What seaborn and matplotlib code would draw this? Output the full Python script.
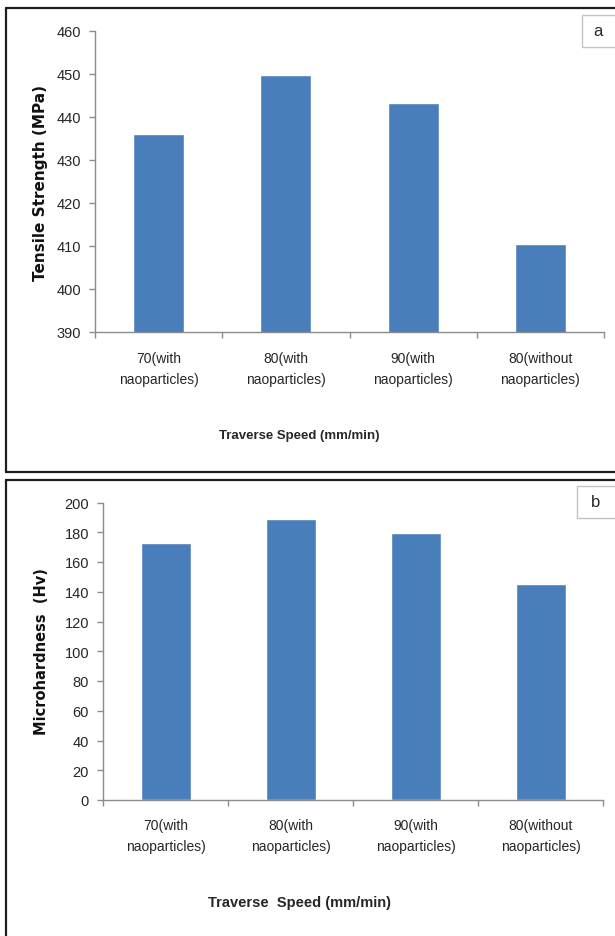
import matplotlib
matplotlib.use("Agg")
import matplotlib.pyplot as plt
from matplotlib import font_manager
from matplotlib.lines import Line2D
from matplotlib.patches import Rectangle
import seaborn as sns

# Data
categories = ["70(with\nnaoparticles)", "80(with\nnaoparticles)",
              "90(with\nnaoparticles)", "80(without\nnaoparticles)"]
tensile_strength = [436.0, 449.7, 443.2, 410.5]
microhardness = [173.0, 189.0, 179.2, 145.0]
tensile_ticks = [390, 400, 410, 420, 430, 440, 450, 460]
hardness_ticks = [0, 20, 40, 60, 80, 100, 120, 140, 160, 180, 200]

sns.set_theme(style="white")
installed = {f.name for f in font_manager.fontManager.ttflist}
NARROW = "Liberation Sans Narrow" if "Liberation Sans Narrow" in installed else "Liberation Sans"
plt.rcParams["font.family"] = [NARROW, "DejaVu Sans"]

W, H = 615, 937
BAR = "#4a7ebb"
AXIS = "#8c8c8c"
TEXT = "#262626"

fig = plt.figure(figsize=(W / 100, H / 100), dpi=100)
fig.patch.set_facecolor("white")


def px_axes(left, top, right, bottom):
    return fig.add_axes([left / W, 1 - bottom / H, (right - left) / W, (bottom - top) / H])


def style_axes(ax, ticks, label_pad, spacing):
    ax.set_facecolor("white")
    for s in ("top", "right"):
        ax.spines[s].set_visible(False)
    for s in ("left", "bottom"):
        ax.spines[s].set_color(AXIS)
        ax.spines[s].set_linewidth(1.0)
    ax.set_xlim(-0.5, len(categories) - 0.5)
    ax.set_ylim(ticks[0], ticks[-1])
    ax.set_yticks(ticks)
    ax.set_yticklabels([str(t) for t in ticks])
    ax.tick_params(axis="y", direction="out", length=4, width=1, color=AXIS,
                   pad=6, labelsize=10.5, labelcolor=TEXT, left=True)
    # category boundaries carry the tick marks, labels sit at bar centres
    ax.set_xticks([i - 0.5 for i in range(len(categories) + 1)])
    ax.set_xticklabels([""] * (len(categories) + 1))
    ax.tick_params(axis="x", which="major", direction="out", length=4, width=1,
                   color=AXIS, bottom=True)
    ax.set_xticks(range(len(categories)), minor=True)
    ax.set_xticklabels(categories, minor=True)
    ax.tick_params(axis="x", which="minor", length=0, pad=label_pad,
                   labelsize=10, labelcolor=TEXT)
    for lab in ax.get_xticklabels(minor=True):
        lab.set_linespacing(spacing)
        lab.set_ha("center")
    ax.set_xlabel("")
    ax.set_ylabel("")


# Panel a: tensile strength
ax1 = px_axes(95, 32, 604, 333)
sns.barplot(x=list(range(len(categories))), y=tensile_strength, color=BAR,
            width=0.4, ax=ax1, native_scale=True, saturation=1)
style_axes(ax1, tensile_ticks, 14, 1.6)

# Panel b: microhardness
ax2 = px_axes(103, 503.5, 603, 801)
sns.barplot(x=list(range(len(categories))), y=microhardness, color=BAR,
            width=0.4, ax=ax2, native_scale=True, saturation=1)
style_axes(ax2, hardness_ticks, 13, 1.6)


def fig_text(x, y, s, **kw):
    fig.text(x / W, 1 - y / H, s, **kw)


fig_text(299, 436, "Traverse Speed (mm/min)", ha="center", va="center",
         fontsize=9.5, fontweight="bold", color=TEXT)
fig_text(300, 903, "Traverse  Speed (mm/min)", ha="center", va="center",
         fontsize=10.5, fontweight="bold", color=TEXT)
fig_text(40, 183, "Tensile Strength (MPa)", ha="center", va="center", rotation=90,
         fontsize=11, fontweight="bold", color="#111111", family="DejaVu Sans")
fig_text(42, 652, "Microhardness  (Hv)", ha="center", va="center", rotation=90,
         fontsize=10.5, fontweight="bold", color="#111111", family="DejaVu Sans")

# Panel frames
def fig_line(x0, y0, x1, y1, lw=1.6, color="#1e1e1e"):
    fig.add_artist(Line2D([x0 / W, x1 / W], [1 - y0 / H, 1 - y1 / H],
                          transform=fig.transFigure, lw=lw, color=color))


fig_line(6, 9, W + 5, 9)
fig_line(6, 9, 6, 473)
fig_line(6, 473, W + 5, 473)
fig_line(6, 481, W + 5, 481)
fig_line(6, 481, 6, H + 5)

# Panel letters
for (x0, y0, x1, y1, tx, ty, s) in [(582, 16, 620, 48, 598, 32, "a"),
                                    (577, 487, 620, 519, 596, 503, "b")]:
    fig.add_artist(Rectangle((x0 / W, 1 - y1 / H), (x1 - x0) / W, (y1 - y0) / H,
                             transform=fig.transFigure, facecolor="white",
                             edgecolor="#c4c4c4", lw=1.0))
    fig_text(tx, ty, s, ha="center", va="center", fontsize=12, color=TEXT)

fig.savefig("out.png", dpi=100)
